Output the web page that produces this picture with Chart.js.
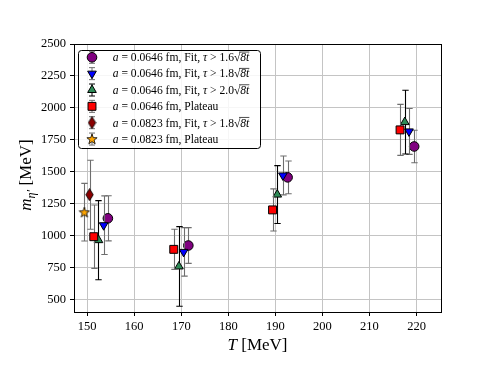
<!DOCTYPE html>
<html>
<head>
<meta charset="utf-8">
<script src="https://cdn.jsdelivr.net/npm/chart.js"></script>
<style>
  body { margin: 0; background: #fff; }
  canvas { display: block; }
</style>
</head>
<body>
<canvas id="etaChart" width="490" height="368"></canvas>
<script>
// == data == //
const xTicks = [150, 160, 170, 180, 190, 200, 210, 220];
const yTicks = [500, 750, 1000, 1250, 1500, 1750, 2000, 2250, 2500];

// a = 0.0646 fm, Fit, tau > 1.6 sqrt(8t)
const tFit16 = [154.4, 171.5, 192.6, 219.5];
const mFit16 = [1134, 921, 1455, 1697];
const eFit16 = [177, 140, 128, 127];

// a = 0.0646 fm, Fit, tau > 1.8 sqrt(8t)
const tFit18 = [153.5, 170.5, 191.6, 218.4];
const mFit18 = [1080, 871, 1470, 1815];
const eFit18 = [230, 190, 152, 180];

// a = 0.0646 fm, Fit, tau > 2.0 sqrt(8t)
const tFit20 = [152.4, 169.5, 190.4, 217.5];
const mFit20 = [963, 757, 1320, 1888];
const eFit20 = [310, 312, 227, 250];

// a = 0.0646 fm, Plateau
const tPlat = [151.4, 168.4, 189.4, 216.5];
const mPlat = [990, 891, 1200, 1827];
const ePlat = [248, 157, 165, 200];

// a = 0.0823 fm
const tCoarseFit = [150.5];
const mCoarseFit = [1319];
const eCoarseFit = [270];
const tCoarsePlat = [149.4];
const mCoarsePlat = [1182];
const eCoarsePlat = [226];

const spacings = ["0.0646", "0.0646", "0.0646", "0.0646", "0.0823", "0.0823"];
const methods = ["Fit", "Fit", "Fit", "Plateau", "Fit", "Plateau"];
const tauCuts = ["1.6", "1.8", "2.0", null, "1.8", null];

const SERIF = "'Liberation Serif', 'DejaVu Serif', serif";

// small canvases for markers chart.js does not have
function makeDiamond() {
    const c = document.createElement("canvas");
    c.width = 9; c.height = 13;
    const g = c.getContext("2d");
    g.beginPath();
    g.moveTo(4.5, 0.6); g.lineTo(8.2, 6.5); g.lineTo(4.5, 12.4); g.lineTo(0.8, 6.5);
    g.closePath();
    g.fillStyle = "#8b0000"; g.fill();
    g.lineWidth = 0.9; g.strokeStyle = "#000"; g.stroke();
    return c;
}
function makeStar() {
    const c = document.createElement("canvas");
    c.width = 12; c.height = 12;
    const g = c.getContext("2d");
    g.beginPath();
    for (let k = 0; k < 10; k++) {
        const r = k % 2 === 0 ? 5.4 : 2.2;
        const a = -Math.PI / 2 + k * Math.PI / 5;
        const px = 6 + r * Math.cos(a), py = 6.4 + r * Math.sin(a);
        k === 0 ? g.moveTo(px, py) : g.lineTo(px, py);
    }
    g.closePath();
    g.fillStyle = "#ffa500"; g.fill();
    g.lineWidth = 0.8; g.strokeStyle = "#000"; g.stroke();
    return c;
}

function points(ts, ms) {
    return ts.map((t, i) => ({ x: t, y: ms[i] }));
}

const datasets = [
    { data: points(tFit16, mFit16), errors: eFit16, errColor: "#6e6e6e", pointStyle: "circle", pointRadius: 4.8, backgroundColor: "#800080", order: 6 },
    { data: points(tFit18, mFit18), errors: eFit18, errColor: "#6e6e6e", pointStyle: "triangle", pointRotation: 180, pointRadius: 5, backgroundColor: "#0000ff", order: 5 },
    { data: points(tFit20, mFit20), errors: eFit20, errColor: "#000000", pointStyle: "triangle", pointRadius: 5, backgroundColor: "#2e8b57", order: 4 },
    { data: points(tPlat, mPlat), errors: ePlat, errColor: "#6e6e6e", pointStyle: "rect", pointRadius: 5.6, backgroundColor: "#ff0000", order: 3 },
    { data: points(tCoarseFit, mCoarseFit), errors: eCoarseFit, errColor: "#6e6e6e", pointStyle: makeDiamond(), pointRadius: 5, backgroundColor: "#8b0000", order: 2 },
    { data: points(tCoarsePlat, mCoarsePlat), errors: eCoarsePlat, errColor: "#6e6e6e", pointStyle: makeStar(), pointRadius: 5, backgroundColor: "#ffa500", order: 1 },
];
datasets.forEach(d => {
    d.borderColor = "#000";
    d.borderWidth = 1;
    d.pointHoverRadius = d.pointRadius;
});

// 🔹 error bars, drawn under each dataset's markers
const errorBars = {
    id: "errorBars",
    beforeDatasetDraw(chart, args) {
        const ds = chart.data.datasets[args.index];
        const { ctx, scales: { x, y } } = chart;
        ctx.save();
        ctx.strokeStyle = ds.errColor;
        ctx.lineWidth = 1.1;
        ds.data.forEach((p, i) => {
            const px = Math.round(x.getPixelForValue(p.x)) + 0.5;
            const top = y.getPixelForValue(p.y + ds.errors[i]);
            const bot = y.getPixelForValue(p.y - ds.errors[i]);
            ctx.beginPath();
            ctx.moveTo(px, top); ctx.lineTo(px, bot);
            ctx.moveTo(px - 3.2, top); ctx.lineTo(px + 3.2, top);
            ctx.moveTo(px - 3.2, bot); ctx.lineTo(px + 3.2, bot);
            ctx.stroke();
        });
        ctx.restore();
    }
};

// draw a run of [text, italic, overline] pieces
function drawParts(ctx, parts, x, y, size) {
    let cx = x, barStart = null;
    parts.forEach(([txt, it, over]) => {
        ctx.font = (it ? "italic " : "") + size + "px " + SERIF;
        const w = ctx.measureText(txt).width;
        ctx.fillText(txt, cx, y);
        if (over) {
            ctx.beginPath();
            ctx.lineWidth = 0.7;
            ctx.moveTo(barStart ?? cx, y - size * 0.78);
            ctx.lineTo(cx + w, y - size * 0.78);
            ctx.stroke();
        }
        barStart = txt === "√" ? cx + w * 0.8 : null;
        cx += w;
    });
    return cx - x;
}
function partsWidth(ctx, parts, size) {
    return parts.reduce((s, [txt, it]) => {
        ctx.font = (it ? "italic " : "") + size + "px " + SERIF;
        return s + ctx.measureText(txt).width;
    }, 0);
}

function labelParts(i) {
    const parts = [["a", true], [" = " + spacings[i] + " fm, " + methods[i], false]];
    if (tauCuts[i]) {
        parts.push([", ", false], ["τ", true], [" > " + tauCuts[i], false], ["√", false], ["8t", true, true]);
    }
    return parts;
}

// 🔹 frame, axis titles and the legend box
const decorations = {
    id: "decorations",
    afterDatasetsDraw(chart) {
        const { ctx, chartArea: a } = chart;
        ctx.save();
        ctx.strokeStyle = "#000";
        ctx.lineWidth = 1;
        ctx.strokeRect(Math.round(a.left) + 0.5, Math.round(a.top) + 0.5, Math.round(a.width), Math.round(a.height));
        ctx.restore();
    },
    afterDraw(chart) {
        const { ctx, chartArea: a } = chart;
        ctx.save();
        ctx.fillStyle = "#000";
        ctx.strokeStyle = "#000";
        ctx.textBaseline = "alphabetic";

        // x title
        const xParts = [["T", true], [" [MeV]", false]];
        const xw = partsWidth(ctx, xParts, 17);
        drawParts(ctx, xParts, (a.left + a.right) / 2 - xw / 2, 350, 17);

        // y title, rotated
        ctx.save();
        ctx.translate(31, (a.top + a.bottom) / 2 - 3);
        ctx.rotate(-Math.PI / 2);
        ctx.font = "italic 17px " + SERIF;
        const mW = ctx.measureText("m").width;
        ctx.font = "italic 12px " + SERIF;
        const sW = ctx.measureText("η′").width;
        ctx.font = "17px " + SERIF;
        const rW = ctx.measureText(" [MeV]").width;
        let sx = -(mW + sW + rW) / 2;
        ctx.font = "italic 17px " + SERIF;
        ctx.fillText("m", sx, 0); sx += mW;
        ctx.font = "italic 12px " + SERIF;
        ctx.fillText("η′", sx, 3.5); sx += sW;
        ctx.font = "17px " + SERIF;
        ctx.fillText(" [MeV]", sx, 0);
        ctx.restore();

        // legend box
        const bx = 78.5, by = 50.5, bw = 182, bh = 98;
        ctx.beginPath();
        ctx.roundRect(bx, by, bw, bh, 3);
        ctx.fillStyle = "rgba(255,255,255,0.85)";
        ctx.fill();
        ctx.lineWidth = 1;
        ctx.strokeStyle = "#000";
        ctx.stroke();

        chart.data.datasets.forEach((ds, i) => {
            const ry = 57.3 + i * 16.35;
            const mx = 91.5;
            // little error bar
            ctx.strokeStyle = ds.errColor;
            ctx.lineWidth = 1;
            ctx.beginPath();
            ctx.moveTo(mx + 0.5, ry - 6); ctx.lineTo(mx + 0.5, ry + 6);
            ctx.moveTo(mx - 2.5, ry - 6); ctx.lineTo(mx + 3.5, ry - 6);
            ctx.moveTo(mx - 2.5, ry + 6); ctx.lineTo(mx + 3.5, ry + 6);
            ctx.stroke();
            ctx.fillStyle = ds.backgroundColor;
            ctx.strokeStyle = "#000";
            ctx.lineWidth = 1;
            Chart.helpers.drawPoint(ctx, {
                pointStyle: ds.pointStyle, radius: ds.pointRadius,
                rotation: ds.pointRotation || 0, borderWidth: 1
            }, mx + 0.5, ry);

            ctx.fillStyle = "#000";
            ctx.strokeStyle = "#000";
            drawParts(ctx, labelParts(i), 112.7, ry + 3.8, 11.6);
        });
        ctx.restore();
    }
};

const tickFont = { family: SERIF, size: 12.5 };

new Chart(document.getElementById("etaChart").getContext("2d"), {
    type: "scatter",
    data: { datasets: datasets },
    plugins: [errorBars, decorations],
    options: {
        responsive: false,
        animation: false,
        devicePixelRatio: 1,
        layout: { padding: { top: 44, right: 49, left: 0, bottom: 0 } },
        plugins: { legend: { display: false }, tooltip: { enabled: false } },
        scales: {
            x: {
                type: "linear",
                min: 147.2,
                max: 225.2,
                afterBuildTicks: s => { s.ticks = xTicks.map(v => ({ value: v })); },
                afterFit: s => { s.height = 56; },
                grid: { color: "#c4c4c4", lineWidth: 1, tickColor: "#000", tickLength: 4 },
                border: { color: "#000", width: 1 },
                ticks: { color: "#000", font: tickFont, padding: 3, maxRotation: 0, autoSkip: false, callback: v => String(v) }
            },
            y: {
                type: "linear",
                min: 400,
                max: 2500,
                afterBuildTicks: s => { s.ticks = yTicks.map(v => ({ value: v })); },
                afterFit: s => { s.width = 74; },
                grid: { color: "#c4c4c4", lineWidth: 1, tickColor: "#000", tickLength: 4 },
                border: { color: "#000", width: 1 },
                ticks: { color: "#000", font: tickFont, padding: 4, autoSkip: false, callback: v => String(v) }
            }
        }
    }
});
</script>
</body>
</html>
